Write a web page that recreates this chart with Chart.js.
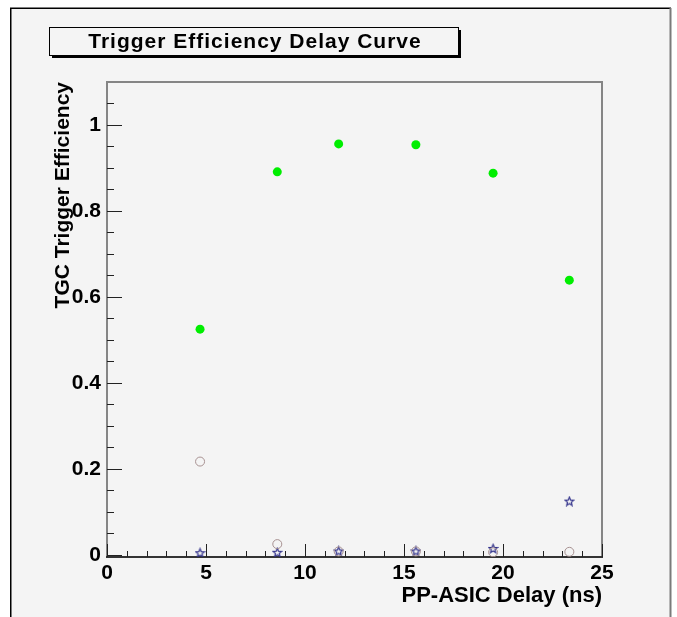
<!DOCTYPE html>
<html>
<head>
<meta charset="utf-8">
<script src="https://cdn.jsdelivr.net/npm/chart.js@4"></script>
<style>
  html, body { margin: 0; padding: 0; background: #fff; }
  canvas { display: block; }
</style>
</head>
<body>
<canvas id="delayChart" width="677" height="617"></canvas>
<script>
// values
const delays = [4.7, 8.6, 11.7, 15.6, 19.5, 23.35];
const efficiency = [0.525, 0.891, 0.956, 0.954, 0.888, 0.639];
const openCircles = [0.217, 0.025, 0.008, 0.008, 0.006, 0.007];
const stars = [0.005, 0.006, 0.009, 0.009, 0.015, 0.125];
const xTicks = [0, 5, 10, 15, 20, 25];
const yTicks = [0, 0.2, 0.4, 0.6, 0.8, 1];

const chartTitle = 'Trigger Efficiency Delay Curve';
const fontFamily = '"Liberation Sans", Arial, Helvetica, sans-serif';

function makeStar(size, color) {
  const c = document.createElement('canvas');
  c.width = size;
  c.height = size;
  const g = c.getContext('2d');
  const cx = size / 2, cy = size / 2 + 0.5;
  const R = size / 2 - 1, r = R * 0.45;
  g.beginPath();
  for (let i = 0; i < 10; i++) {
    const a = -Math.PI / 2 + i * Math.PI / 5;
    const rad = i % 2 ? r : R;
    g.lineTo(cx + rad * Math.cos(a), cy + rad * Math.sin(a));
  }
  g.closePath();
  g.strokeStyle = color;
  g.lineWidth = 1.2;
  g.stroke();
  return c;
}

const toPoints = (ys) => delays.map((x, i) => ({ x: x, y: ys[i] }));

// ROOT style frame, inside ticks and title box
const rootFrame = {
  id: 'rootFrame',
  beforeDraw(chart) {
    const ctx = chart.ctx;
    ctx.save();
    ctx.fillStyle = '#ffffff';
    ctx.fillRect(0, 0, chart.width, chart.height);
    ctx.fillStyle = '#f4f4f4';
    ctx.fillRect(11, 8, 660, chart.height - 8);
    ctx.fillStyle = '#000';
    ctx.fillRect(10, 8, 1.5, chart.height - 8);
    ctx.fillRect(10, 7.5, 661, 1.5);
    ctx.fillStyle = '#7a7a7a';
    ctx.fillRect(669.5, 8, 2, chart.height - 8);
    ctx.restore();
  },
  beforeDatasetsDraw(chart) {
    const ctx = chart.ctx;
    const a = chart.chartArea;
    const xs = chart.scales.x, ys = chart.scales.y;
    ctx.save();
    // frame
    ctx.strokeStyle = '#858585';
    ctx.lineWidth = 2;
    ctx.beginPath();
    ctx.moveTo(a.left, a.bottom);
    ctx.lineTo(a.left, a.top);
    ctx.lineTo(a.right, a.top);
    ctx.lineTo(a.right, a.bottom);
    ctx.stroke();
    ctx.strokeStyle = '#333';
    ctx.beginPath();
    ctx.moveTo(a.left - 1, a.bottom);
    ctx.lineTo(a.right + 1, a.bottom);
    ctx.stroke();

    // ticks
    ctx.strokeStyle = '#222';
    ctx.lineWidth = 1;
    ctx.beginPath();
    for (let i = 0; i <= 25; i++) {
      const px = Math.round(xs.getPixelForValue(i)) + 0.5;
      const len = i % 5 === 0 ? 13 : 6;
      ctx.moveTo(px, a.bottom);
      ctx.lineTo(px, a.bottom - len);
    }
    for (let i = 0; i <= 21; i++) {
      const v = i * 0.05;
      const py = Math.round(ys.getPixelForValue(v)) + 0.5;
      const len = i % 4 === 0 ? 15 : 7;
      ctx.moveTo(a.left, py);
      ctx.lineTo(a.left + len, py);
    }
    ctx.stroke();
    ctx.restore();
  },
  afterDraw(chart) {
    const ctx = chart.ctx;
    ctx.save();
    ctx.fillStyle = '#000';
    ctx.fillRect(52, 30, 409, 28);
    ctx.fillStyle = '#f4f4f4';
    ctx.fillRect(49, 27, 410, 29);
    ctx.strokeStyle = '#000';
    ctx.lineWidth = 1;
    ctx.strokeRect(49.5, 27.5, 409, 28);
    ctx.fillStyle = '#000';
    ctx.font = 'bold 21px ' + fontFamily;
    ctx.letterSpacing = '1px';
    ctx.textAlign = 'center';
    ctx.textBaseline = 'middle';
    ctx.fillText(chartTitle, 255, 42);
    ctx.restore();
  }
};

const starImg = makeStar(11, '#30308a');

new Chart(document.getElementById('delayChart'), {
  type: 'scatter',
  data: {
    datasets: [
      {
        label: 'Efficiency',
        data: toPoints(efficiency),
        pointStyle: 'circle',
        pointRadius: 4.5,
        backgroundColor: '#00ee00',
        borderColor: '#00ee00',
        borderWidth: 0
      },
      {
        label: 'Open circles',
        data: toPoints(openCircles),
        pointStyle: 'circle',
        pointRadius: 4.5,
        backgroundColor: 'rgba(0,0,0,0)',
        borderColor: '#a89292',
        borderWidth: 1
      },
      {
        label: 'Stars',
        data: toPoints(stars),
        pointStyle: starImg,
        pointRadius: 5
      }
    ]
  },
  options: {
    responsive: false,
    animation: false,
    layout: { padding: { left: 51, right: 75, top: 82, bottom: 0 } },
    plugins: {
      legend: { display: false },
      tooltip: { enabled: false }
    },
    scales: {
      x: {
        type: 'linear',
        min: 0,
        max: 25,
        afterBuildTicks: (s) => { s.ticks = xTicks.map((v) => ({ value: v })); },
        afterFit: (s) => { s.height = 60; },
        grid: { display: false, drawTicks: false },
        border: { display: false },
        ticks: {
          padding: 4,
          maxRotation: 0,
          color: '#000',
          font: { family: fontFamily, size: 21, weight: 'bold' }
        },
        title: {
          display: true,
          text: 'PP-ASIC Delay (ns)',
          align: 'end',
          color: '#000',
          padding: { top: 0, bottom: 8 },
          font: { family: fontFamily, size: 22, weight: 'bold' }
        }
      },
      y: {
        type: 'linear',
        min: -0.005,
        max: 1.1,
        afterBuildTicks: (s) => { s.ticks = yTicks.map((v) => ({ value: v })); },
        afterFit: (s) => { s.width = 56; },
        grid: { display: false, drawTicks: false },
        border: { display: false },
        ticks: {
          padding: 6,
          color: '#000',
          font: { family: fontFamily, size: 21, weight: 'bold' },
          callback: (v) => String(Math.round(v * 10) / 10)
        },
        title: {
          display: true,
          text: 'TGC Trigger Efficiency',
          align: 'end',
          color: '#000',
          padding: { top: 0, bottom: 0 },
          font: { family: fontFamily, size: 21, weight: 'bold' }
        }
      }
    }
  },
  plugins: [rootFrame]
});
</script>
</body>
</html>
